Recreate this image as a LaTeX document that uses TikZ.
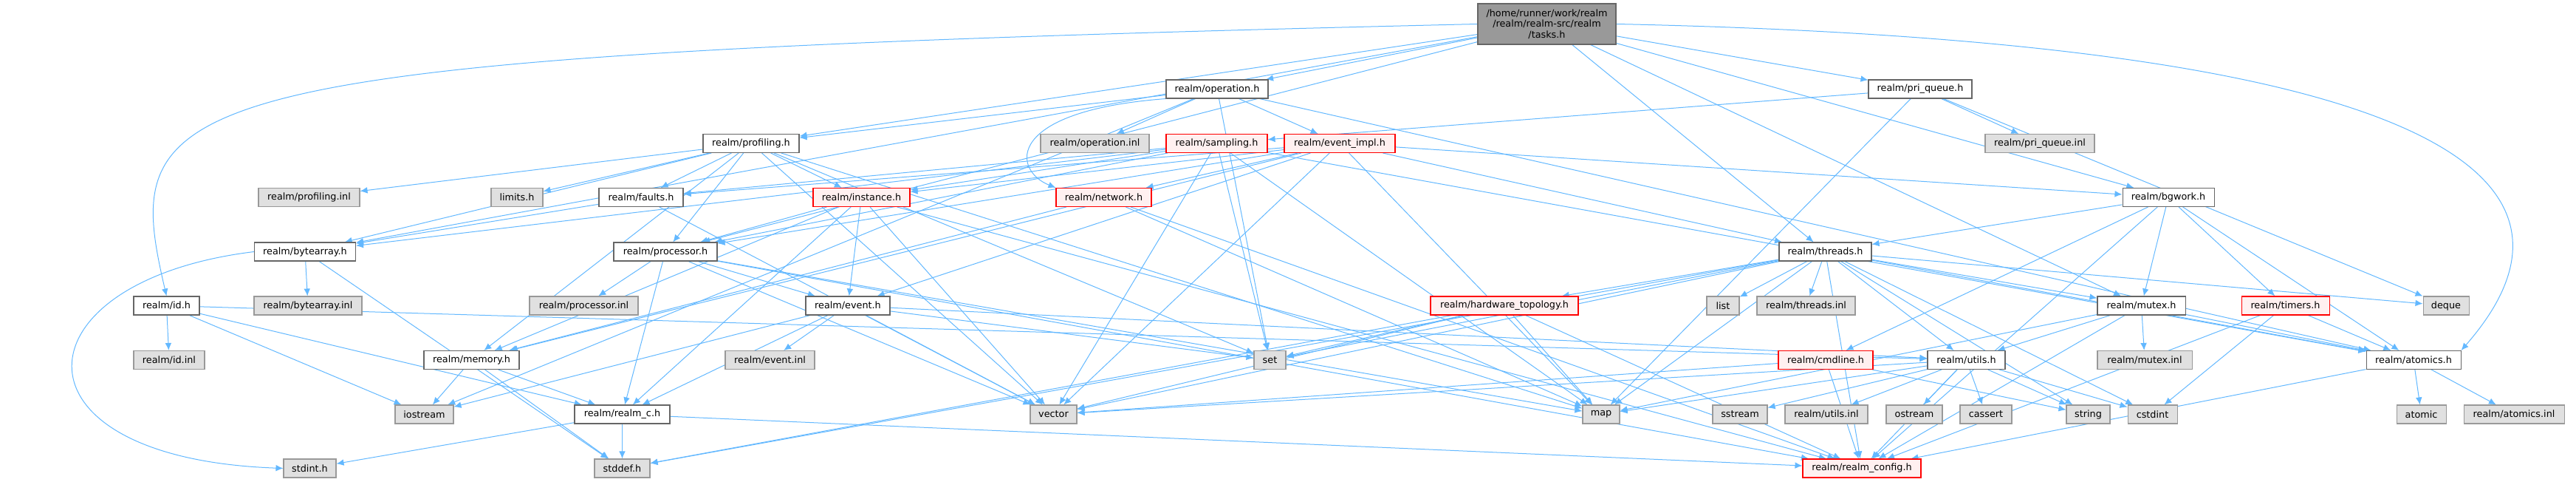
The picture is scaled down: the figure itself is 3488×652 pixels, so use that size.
\documentclass[tikz,border=0pt]{standalone}
\usepackage{fontspec}
\setmainfont{DejaVu Sans}
\usetikzlibrary{arrows.meta,backgrounds}
\definecolor{edgeblue}{HTML}{63B8FF}
\definecolor{sysfill}{HTML}{E0E0E0}
\definecolor{sysline}{HTML}{999999}
\definecolor{hdrline}{HTML}{666666}
\definecolor{redfill}{HTML}{FFF0F0}
\definecolor{rootfill}{HTML}{999999}

\begin{document}
\begin{tikzpicture}[x=0.75pt,y=-0.75pt,>={Latex[length=7.5pt,width=6.5pt]},
  file/.style={draw=hdrline,fill=white,line width=0.8pt,minimum height=18.75pt,inner sep=0pt,font=\fontsize{9.6}{11}\selectfont},
  sys/.style={file,draw=sysline,fill=sysfill},
  trunc/.style={file,draw=red,fill=redfill},
  root/.style={file,fill=rootfill,align=center,minimum height=41.25pt},
  wd/.style={minimum width=#1*0.75pt},
  inc/.style={->,edgeblue,line width=0.75pt}]
\useasboundingbox (0,0) rectangle (3488,652);
% top file
\node[root,wd=187] (tasks) at (2094.5,32.5) {/home/runner/work/realm\\/realm/realm-src/realm\\/tasks.h};
% rank 1
\node[file,wd=138] (operation) at (1648,120.5) {realm/operation.h};
\node[file,wd=140] (priqueue) at (2600,120.5) {realm/pri\_queue.h};
% rank 2
\node[file,wd=130] (profiling) at (1017,194) {realm/profiling.h};
\node[sys,wd=147] (operationinl) at (1482.5,194) {realm/operation.inl};
\node[trunc,wd=137] (sampling) at (1647.5,194) {realm/sampling.h};
\node[trunc,wd=150] (eventimpl) at (1814,194) {realm/event\_impl.h};
\node[sys,wd=148] (priqueueinl) at (2762,194) {realm/pri\_queue.inl};
% rank 3
\node[sys,wd=137] (profilinginl) at (418.5,267) {realm/profiling.inl};
\node[sys,wd=70] (limits) at (700,267) {limits.h};
\node[file,wd=114] (faults) at (868,267) {realm/faults.h};
\node[trunc,wd=131] (instance) at (1166.5,267) {realm/instance.h};
\node[trunc,wd=129] (network) at (1494.5,267) {realm/network.h};
\node[file,wd=124] (bgwork) at (2936,267) {realm/bgwork.h};
% rank 4
\node[file,wd=137] (bytearray) at (413,340.5) {realm/bytearray.h};
\node[file,wd=140] (processor) at (901,340.5) {realm/processor.h};
\node[file,wd=125] (threads) at (2471.5,340.5) {realm/threads.h};
% rank 5
\node[file,wd=89] (id) at (225.5,413.5) {realm/id.h};
\node[sys,wd=146] (bytearrayinl) at (417,413.5) {realm/bytearray.inl};
\node[sys,wd=147] (processorinl) at (790.5,413.5) {realm/processor.inl};
\node[file,wd=114] (event) at (1148,413.5) {realm/event.h};
\node[trunc,wd=200] (hwtopo) at (2037,413.5) {realm/hardware\_topology.h};
\node[sys,wd=44] (list) at (2333,413.5) {list};
\node[sys,wd=133] (threadsinl) at (2445.5,413.5) {realm/threads.inl};
\node[file,wd=119] (mutex) at (2899.5,413.5) {realm/mutex.h};
\node[trunc,wd=119] (timers) at (3094.5,413.5) {realm/timers.h};
\node[sys,wd=62] (deque) at (3312,413.5) {deque};
% rank 6
\node[sys,wd=96] (idinl) at (229,487) {realm/id.inl};
\node[file,wd=129] (memory) at (638.5,487) {realm/memory.h};
\node[sys,wd=121] (eventinl) at (1042.5,487) {realm/event.inl};
\node[sys,wd=43] (set) at (1719.5,487) {set};
\node[trunc,wd=128] (cmdline) at (2472,487) {realm/cmdline.h};
\node[file,wd=105] (utils) at (2662.5,487) {realm/utils.h};
\node[sys,wd=128] (mutexinl) at (2904,487) {realm/mutex.inl};
\node[file,wd=128] (atomics) at (3268,487) {realm/atomics.h};
% rank 7
\node[sys,wd=79] (iostream) at (574.5,560.5) {iostream};
\node[file,wd=129] (realmc) at (842.5,560.5) {realm/realm\_c.h};
\node[sys,wd=63] (vector) at (1426.5,560.5) {vector};
\node[sys,wd=50] (map) at (2168,560.5) {map};
\node[sys,wd=74] (sstream) at (2356,560.5) {sstream};
\node[sys,wd=112] (utilsinl) at (2473,560.5) {realm/utils.inl};
\node[sys,wd=76] (ostream) at (2592,560.5) {ostream};
\node[sys,wd=70] (cassert) at (2689,560.5) {cassert};
\node[sys,wd=59] (string) at (2827.5,560.5) {string};
\node[sys,wd=67] (cstdint) at (2914.5,560.5) {cstdint};
\node[sys,wd=67] (atomic) at (3278.5,560.5) {atomic};
\node[sys,wd=136] (atomicsinl) at (3404,560.5) {realm/atomics.inl};
% rank 8
\node[sys,wd=71] (stdint) at (419.5,633.5) {stdint.h};
\node[sys,wd=75] (stddef) at (842.5,633.5) {stddef.h};
\node[trunc,wd=160] (realmconfig) at (2521,633.5) {realm/realm\_config.h};

% includes, kept behind the boxes
\begin{pgfonlayer}{background}
\foreach \t in {operation,profiling,priqueue,bgwork,threads,mutex,processor,bytearray}
  \draw[inc] (tasks) -- (\t);
\draw[inc] (tasks.west) .. controls (200,75) and (160,120) .. (id.north);
\draw[inc] (tasks.east) .. controls (3480,60) and (3485,300) .. (atomics.north east);
\foreach \t in {profiling,eventimpl,operationinl,atomics,set,iostream}
  \draw[inc] (operation) -- (\t);
\draw[inc] (operation.south west) .. controls (1360,150) and (1370,230) .. (network.north west);
\foreach \t in {sampling,priqueueinl,map,deque}
  \draw[inc] (priqueue) -- (\t);
\foreach \t in {faults,instance,processor,bytearray,vector,set,map,atomics}
  \draw[inc] (sampling) -- (\t);
\foreach \t in {instance,network,faults,bgwork,threads,event,processor,memory,map,vector}
  \draw[inc] (eventimpl) -- (\t);
\foreach \t in {profilinginl,limits,faults,instance,bytearray,processor,memory,vector,set,map}
  \draw[inc] (profiling) -- (\t);
\foreach \t in {bytearray,vector}
  \draw[inc] (faults) -- (\t);
\foreach \t in {event,processor,memory,realmc,vector,realmconfig}
  \draw[inc] (instance) -- (\t);
\foreach \t in {memory,map,realmconfig}
  \draw[inc] (network) -- (\t);
\foreach \t in {threads,mutex,atomics,timers,cmdline,realmconfig}
  \draw[inc] (bgwork) -- (\t);
\foreach \t in {bytearrayinl,stddef}
  \draw[inc] (bytearray) -- (\t);
\draw[inc] (bytearray.west) .. controls (20,380) and (0,620) .. (stdint.west);
\foreach \t in {processorinl,event,realmc,vector,map,realmconfig}
  \draw[inc] (processor) -- (\t);
\foreach \t in {list,threadsinl,mutex,atomics,utils,hwtopo,string,cstdint,map,set,vector,deque,realmconfig,stddef}
  \draw[inc] (threads) -- (\t);
\foreach \t in {idinl,iostream,realmc,utils}
  \draw[inc] (id) -- (\t);
\foreach \t in {eventinl,realmc,iostream,vector,set,utils}
  \draw[inc] (event) -- (\t);
\foreach \t in {set,vector,map,realmconfig,stddef}
  \draw[inc] (hwtopo) -- (\t);
\foreach \t in {mutexinl,atomics,utils,realmconfig,map}
  \draw[inc] (mutex) -- (\t);
\foreach \t in {atomics,cstdint,realmconfig}
  \draw[inc] (timers) -- (\t);
\foreach \t in {iostream,realmc,stddef}
  \draw[inc] (memory) -- (\t);
\foreach \t in {vector,string,realmconfig}
  \draw[inc] (cmdline) -- (\t);
\foreach \t in {sstream,utilsinl,ostream,cassert,string,cstdint,realmconfig,vector,map}
  \draw[inc] (utils) -- (\t);
\foreach \t in {stddef,stdint,realmconfig}
  \draw[inc] (realmc) -- (\t);
\foreach \t in {atomic,atomicsinl,realmconfig}
  \draw[inc] (atomics) -- (\t);
\end{pgfonlayer}
\end{tikzpicture}
\end{document}
